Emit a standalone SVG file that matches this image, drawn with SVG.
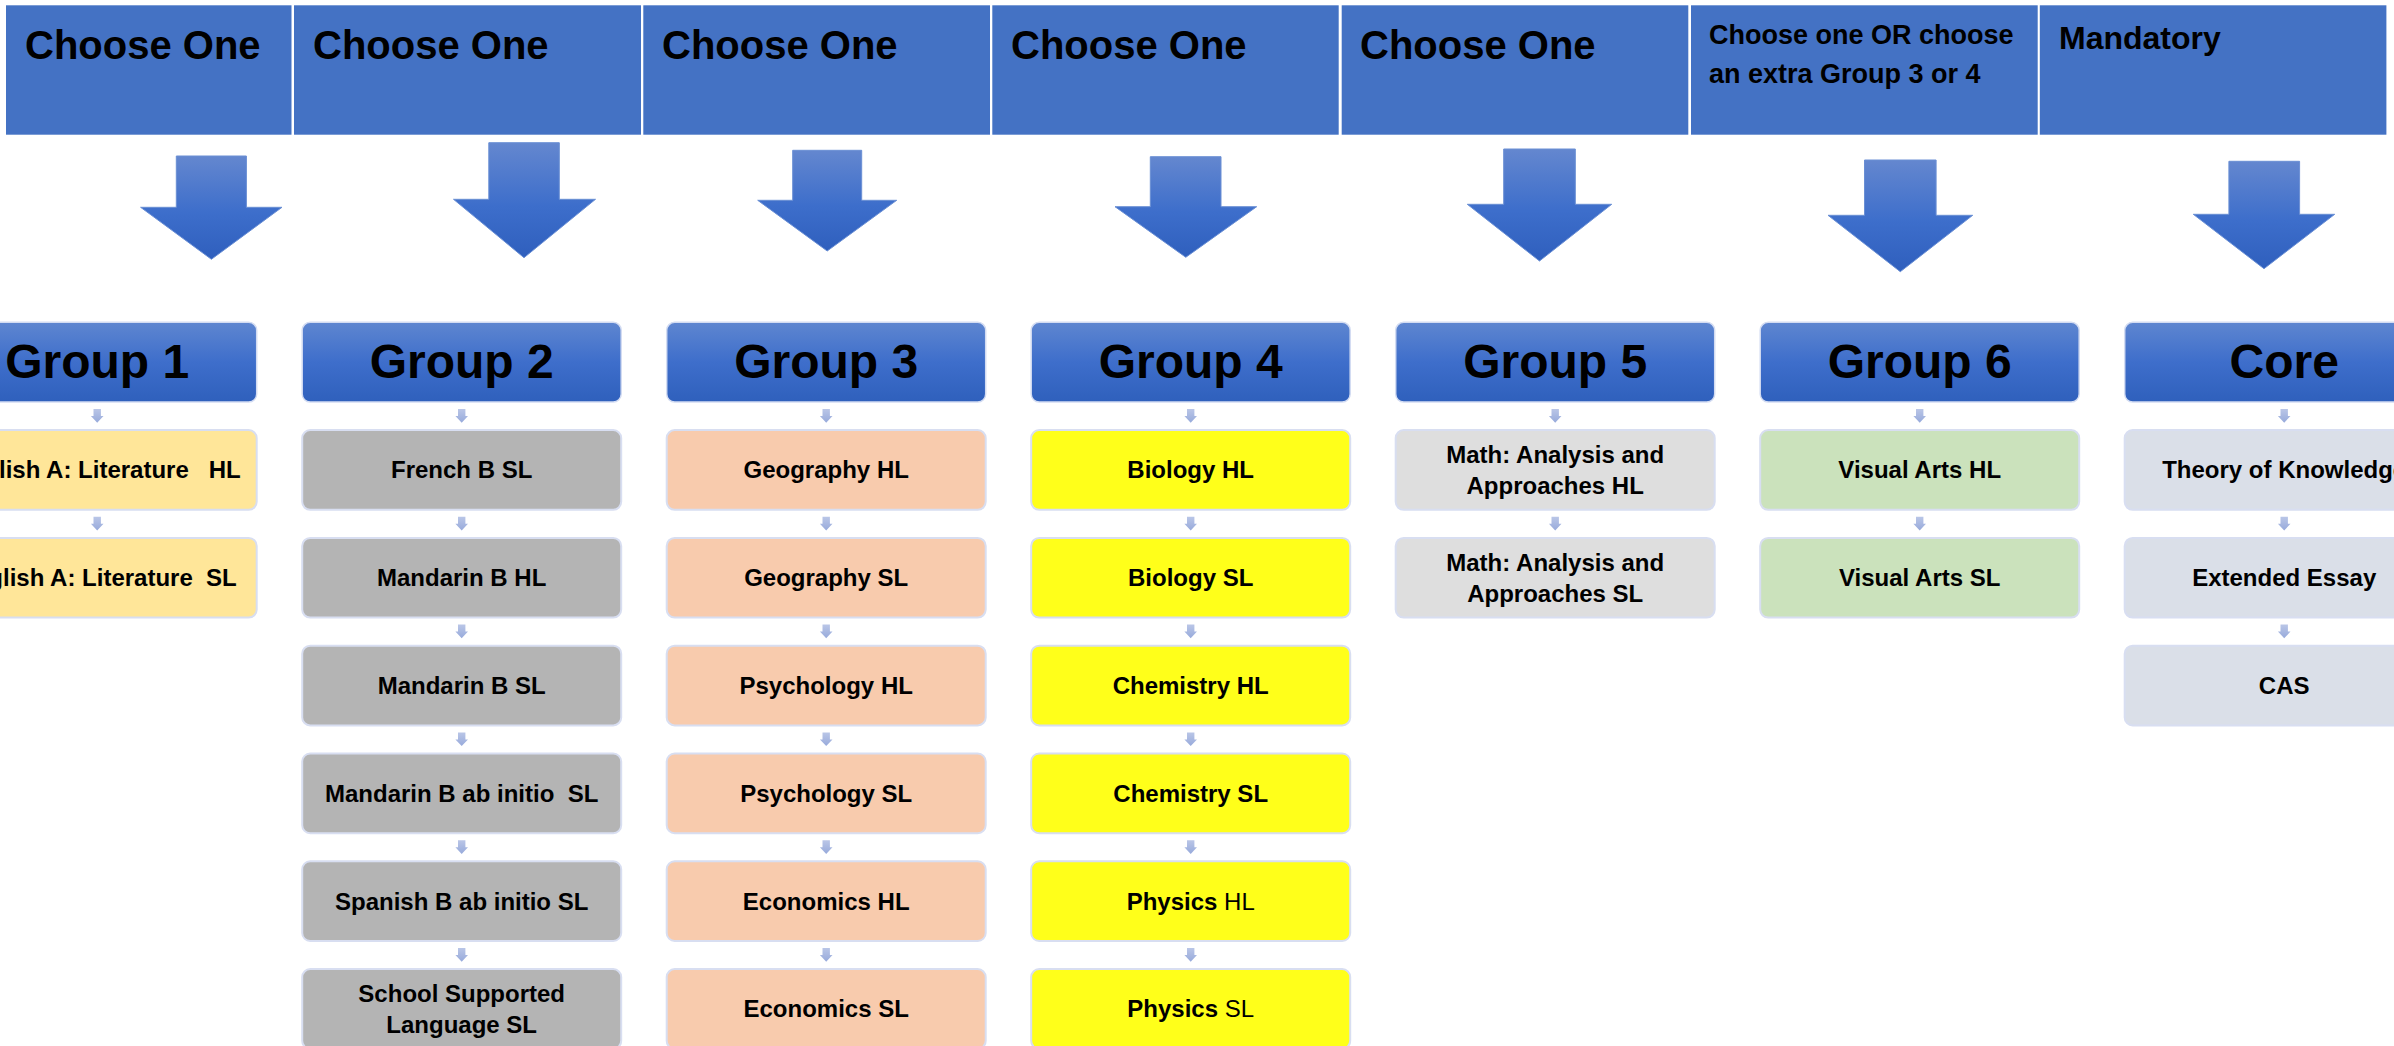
<svg xmlns="http://www.w3.org/2000/svg" xmlns:xlink="http://www.w3.org/1999/xlink" width="2394" height="1046" viewBox="0 0 2394 1046">
  <defs>
    <linearGradient id="gHead" x1="0" y1="0" x2="0" y2="1">
      <stop offset="0" stop-color="#5e86d0"/>
      <stop offset="0.5" stop-color="#3e6ecb"/>
      <stop offset="1" stop-color="#2f60bc"/>
    </linearGradient>
    <linearGradient id="gBig" x1="0" y1="0" x2="0" y2="1">
      <stop offset="0" stop-color="#6487cf"/>
      <stop offset="0.55" stop-color="#3d6ecb"/>
      <stop offset="1" stop-color="#2f5fbd"/>
    </linearGradient>
    <linearGradient id="gSmall" x1="0" y1="0" x2="0" y2="1">
      <stop offset="0" stop-color="#bac6e7"/>
      <stop offset="1" stop-color="#97aadb"/>
    </linearGradient>
    <path id="sa" d="M-3.7,0 H3.7 V7 H6.3 L0,13.7 L-6.3,7 H-3.7 Z" fill="url(#gSmall)"/>
    <style>
      text { font-family: "Liberation Sans", Arial, sans-serif; font-weight: bold; fill: #000; }
      .banner { fill: #4472c4; stroke: #ffffff; stroke-width: 0; }
      .bt { font-size: 40px; }
      .hdr { fill: url(#gHead); stroke: #d3dcf2; stroke-width: 1.5; }
      .ht { font-size: 48px; text-anchor: middle; }
      .box { stroke: #d8def1; stroke-width: 2; }
      .ct { font-size: 24px; text-anchor: middle; }
      .reg { font-weight: normal; }
      .g1 { fill: #ffe699; }
      .g2 { fill: #b4b4b4; }
      .g3 { fill: #f8cbad; }
      .g4 { fill: #ffff1a; }
      .g5 { fill: #dedede; }
      .g6 { fill: #cbe2bc; }
      .gc { fill: #dadfe8; }
      .big { fill: url(#gBig); stroke: #6a8fd4; stroke-width: 1; }
    </style>
  </defs>
  <rect x="0" y="0" width="2394" height="1046" fill="#ffffff"/>

  <!-- Top banner cells -->
  <g id="banner1"><rect class="banner" x="6" y="5.3" width="285.5" height="129.4"/><text class="bt" x="25" y="59.3">Choose One</text></g>
  <g id="banner2"><rect class="banner" x="294" y="5.3" width="347" height="129.4"/><text class="bt" x="313" y="59.3">Choose One</text></g>
  <g id="banner3"><rect class="banner" x="643.3" y="5.3" width="346.7" height="129.4"/><text class="bt" x="662" y="59.3">Choose One</text></g>
  <g id="banner4"><rect class="banner" x="992.3" y="5.3" width="346.4" height="129.4"/><text class="bt" x="1011" y="59.3">Choose One</text></g>
  <g id="banner5"><rect class="banner" x="1341.7" y="5.3" width="346.6" height="129.4"/><text class="bt" x="1360" y="59.3">Choose One</text></g>
  <g id="banner6"><rect class="banner" x="1691" y="5.3" width="346.7" height="129.4"/><text x="1709" y="44" font-size="27">Choose one OR choose</text><text x="1709" y="82.7" font-size="27">an extra Group 3 or 4</text></g>
  <g id="banner7"><rect class="banner" x="2039.8" y="5.3" width="346.6" height="129.4"/><text x="2059" y="49.3" font-size="32">Mandatory</text></g>

  <!-- Group 1 -->
  <g id="group1">
    <rect class="hdr" x="-62.3" y="322.3" width="319" height="79.7" rx="8"/>
    <text class="ht" x="97.2" y="378.3">Group 1</text>
  </g>
  <g id="g1-hl"><rect class="box g1" x="-62.3" y="430.1" width="319" height="79.7" rx="8"/><text class="ct" x="97.2" y="478.4" xml:space="preserve">English A: Literature   HL</text></g>
  <g id="g1-sl"><rect class="box g1" x="-62.3" y="537.9" width="319" height="79.7" rx="8"/><text class="ct" x="97.2" y="586.2" xml:space="preserve">English A: Literature  SL</text></g>

  <!-- Group 2 -->
  <g id="group2">
    <rect class="hdr" x="302.2" y="322.3" width="319" height="79.7" rx="8"/>
    <text class="ht" x="461.7" y="378.3">Group 2</text>
  </g>
  <g id="g2-french"><rect class="box g2" x="302.2" y="430.1" width="319" height="79.7" rx="8"/><text class="ct" x="461.7" y="478.4">French B SL</text></g>
  <g id="g2-mandhl"><rect class="box g2" x="302.2" y="537.9" width="319" height="79.7" rx="8"/><text class="ct" x="461.7" y="586.2">Mandarin B HL</text></g>
  <g id="g2-mandsl"><rect class="box g2" x="302.2" y="645.7" width="319" height="79.7" rx="8"/><text class="ct" x="461.7" y="694">Mandarin B SL</text></g>
  <g id="g2-mandab"><rect class="box g2" x="302.2" y="753.5" width="319" height="79.7" rx="8"/><text class="ct" x="461.7" y="801.8" xml:space="preserve">Mandarin B ab initio  SL</text></g>
  <g id="g2-spanab"><rect class="box g2" x="302.2" y="861.3" width="319" height="79.7" rx="8"/><text class="ct" x="461.7" y="909.6">Spanish B ab initio SL</text></g>
  <g id="g2-school"><rect class="box g2" x="302.2" y="969.1" width="319" height="79.7" rx="8"/><text class="ct" x="461.7" y="1002.1">School Supported</text><text class="ct" x="461.7" y="1033.1">Language SL</text></g>

  <!-- Group 3 -->
  <g id="group3">
    <rect class="hdr" x="666.7" y="322.3" width="319" height="79.7" rx="8"/>
    <text class="ht" x="826.2" y="378.3">Group 3</text>
  </g>
  <g id="g3-geohl"><rect class="box g3" x="666.7" y="430.1" width="319" height="79.7" rx="8"/><text class="ct" x="826.2" y="478.4">Geography HL</text></g>
  <g id="g3-geosl"><rect class="box g3" x="666.7" y="537.9" width="319" height="79.7" rx="8"/><text class="ct" x="826.2" y="586.2">Geography SL</text></g>
  <g id="g3-psyhl"><rect class="box g3" x="666.7" y="645.7" width="319" height="79.7" rx="8"/><text class="ct" x="826.2" y="694">Psychology HL</text></g>
  <g id="g3-psysl"><rect class="box g3" x="666.7" y="753.5" width="319" height="79.7" rx="8"/><text class="ct" x="826.2" y="801.8">Psychology SL</text></g>
  <g id="g3-ecohl"><rect class="box g3" x="666.7" y="861.3" width="319" height="79.7" rx="8"/><text class="ct" x="826.2" y="909.6">Economics HL</text></g>
  <g id="g3-ecosl"><rect class="box g3" x="666.7" y="969.1" width="319" height="79.7" rx="8"/><text class="ct" x="826.2" y="1017.4">Economics SL</text></g>

  <!-- Group 4 -->
  <g id="group4">
    <rect class="hdr" x="1031.2" y="322.3" width="319" height="79.7" rx="8"/>
    <text class="ht" x="1190.7" y="378.3">Group 4</text>
  </g>
  <g id="g4-biohl"><rect class="box g4" x="1031.2" y="430.1" width="319" height="79.7" rx="8"/><text class="ct" x="1190.7" y="478.4">Biology HL</text></g>
  <g id="g4-biosl"><rect class="box g4" x="1031.2" y="537.9" width="319" height="79.7" rx="8"/><text class="ct" x="1190.7" y="586.2">Biology SL</text></g>
  <g id="g4-chemhl"><rect class="box g4" x="1031.2" y="645.7" width="319" height="79.7" rx="8"/><text class="ct" x="1190.7" y="694">Chemistry HL</text></g>
  <g id="g4-chemsl"><rect class="box g4" x="1031.2" y="753.5" width="319" height="79.7" rx="8"/><text class="ct" x="1190.7" y="801.8">Chemistry SL</text></g>
  <g id="g4-phyhl"><rect class="box g4" x="1031.2" y="861.3" width="319" height="79.7" rx="8"/><text class="ct" x="1190.7" y="909.6">Physics <tspan class="reg">HL</tspan></text></g>
  <g id="g4-physl"><rect class="box g4" x="1031.2" y="969.1" width="319" height="79.7" rx="8"/><text class="ct" x="1190.7" y="1017.4">Physics <tspan class="reg">SL</tspan></text></g>

  <!-- Group 5 -->
  <g id="group5">
    <rect class="hdr" x="1395.7" y="322.3" width="319" height="79.7" rx="8"/>
    <text class="ht" x="1555.2" y="378.3">Group 5</text>
  </g>
  <g id="g5-aahl"><rect class="box g5" x="1395.7" y="430.1" width="319" height="79.7" rx="8"/><text class="ct" x="1555.2" y="463.1">Math: Analysis and</text><text class="ct" x="1555.2" y="494.1">Approaches HL</text></g>
  <g id="g5-aasl"><rect class="box g5" x="1395.7" y="537.9" width="319" height="79.7" rx="8"/><text class="ct" x="1555.2" y="570.9">Math: Analysis and</text><text class="ct" x="1555.2" y="601.9">Approaches SL</text></g>

  <!-- Group 6 -->
  <g id="group6">
    <rect class="hdr" x="1760.2" y="322.3" width="319" height="79.7" rx="8"/>
    <text class="ht" x="1919.7" y="378.3">Group 6</text>
  </g>
  <g id="g6-vahl"><rect class="box g6" x="1760.2" y="430.1" width="319" height="79.7" rx="8"/><text class="ct" x="1919.7" y="478.4">Visual Arts HL</text></g>
  <g id="g6-vasl"><rect class="box g6" x="1760.2" y="537.9" width="319" height="79.7" rx="8"/><text class="ct" x="1919.7" y="586.2">Visual Arts SL</text></g>

  <!-- Core -->
  <g id="core">
    <rect class="hdr" x="2124.7" y="322.3" width="319" height="79.7" rx="8"/>
    <text class="ht" x="2284.2" y="378.3">Core</text>
  </g>
  <g id="core-tok"><rect class="box gc" x="2124.7" y="430.1" width="319" height="79.7" rx="8"/><text class="ct" x="2284.2" y="478.4">Theory of Knowledge</text></g>
  <g id="core-ee"><rect class="box gc" x="2124.7" y="537.9" width="319" height="79.7" rx="8"/><text class="ct" x="2284.2" y="586.2">Extended Essay</text></g>
  <g id="core-cas"><rect class="box gc" x="2124.7" y="645.7" width="319" height="79.7" rx="8"/><text class="ct" x="2284.2" y="694">CAS</text></g>

  <!-- Connectors -->
  <g id="connectors">
    <polygon class="big" points="176.3,156 246.4,156 246.4,207.3 282,207.3 211.4,259.3 140.6,207.3 176.3,207.3"/>
    <polygon class="big" points="488.8,142.7 559.3,142.7 559.3,199.3 595.5,199.3 524,257.7 453.5,199.3 488.8,199.3"/>
    <polygon class="big" points="792.7,150.3 861.7,150.3 861.7,200.3 896.7,200.3 827.2,251 757.7,200.3 792.7,200.3"/>
    <polygon class="big" points="1150.3,156.7 1221,156.7 1221,206.7 1256.7,206.7 1185.8,257.3 1115,206.7 1150.3,206.7"/>
    <polygon class="big" points="1503.7,149 1575.3,149 1575.3,204.3 1611.7,204.3 1539.5,261 1467.3,204.3 1503.7,204.3"/>
    <polygon class="big" points="1864.5,160 1936.1,160 1936.1,215.3 1972.7,215.3 1900.3,271.7 1828,215.3 1864.5,215.3"/>
    <polygon class="big" points="2228.9,161.3 2299.6,161.3 2299.6,214.3 2334.7,214.3 2264,268.7 2193.3,214.3 2228.9,214.3"/>

    <use xlink:href="#sa" x="97.2" y="409"/>
    <use xlink:href="#sa" x="97.2" y="516.8"/>

    <use xlink:href="#sa" x="461.7" y="409"/>
    <use xlink:href="#sa" x="461.7" y="516.8"/>
    <use xlink:href="#sa" x="461.7" y="624.6"/>
    <use xlink:href="#sa" x="461.7" y="732.4"/>
    <use xlink:href="#sa" x="461.7" y="840.2"/>
    <use xlink:href="#sa" x="461.7" y="948"/>

    <use xlink:href="#sa" x="826.2" y="409"/>
    <use xlink:href="#sa" x="826.2" y="516.8"/>
    <use xlink:href="#sa" x="826.2" y="624.6"/>
    <use xlink:href="#sa" x="826.2" y="732.4"/>
    <use xlink:href="#sa" x="826.2" y="840.2"/>
    <use xlink:href="#sa" x="826.2" y="948"/>

    <use xlink:href="#sa" x="1190.7" y="409"/>
    <use xlink:href="#sa" x="1190.7" y="516.8"/>
    <use xlink:href="#sa" x="1190.7" y="624.6"/>
    <use xlink:href="#sa" x="1190.7" y="732.4"/>
    <use xlink:href="#sa" x="1190.7" y="840.2"/>
    <use xlink:href="#sa" x="1190.7" y="948"/>

    <use xlink:href="#sa" x="1555.2" y="409"/>
    <use xlink:href="#sa" x="1555.2" y="516.8"/>

    <use xlink:href="#sa" x="1919.7" y="409"/>
    <use xlink:href="#sa" x="1919.7" y="516.8"/>

    <use xlink:href="#sa" x="2284.2" y="409"/>
    <use xlink:href="#sa" x="2284.2" y="516.8"/>
    <use xlink:href="#sa" x="2284.2" y="624.6"/>
  </g>
</svg>
